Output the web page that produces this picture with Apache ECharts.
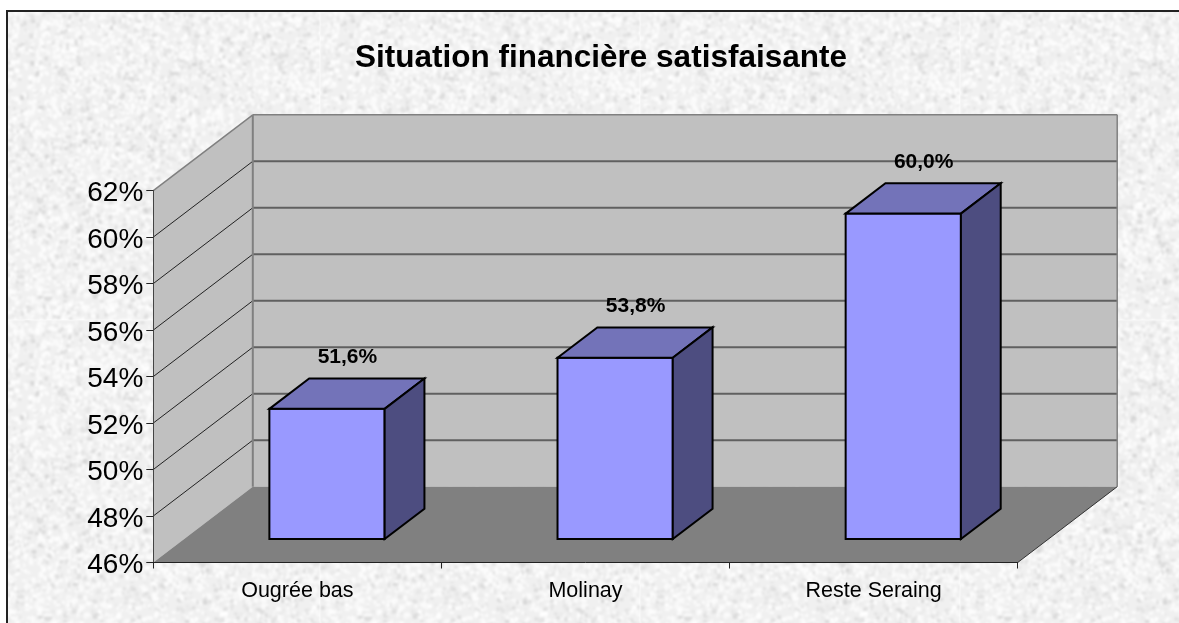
<!DOCTYPE html>
<html>
<head>
<meta charset="utf-8">
<title>Situation financière satisfaisante</title>
<script src="https://cdn.jsdelivr.net/npm/echarts@6/dist/echarts.min.js"></script>
<style>
  html, body { margin: 0; padding: 0; background: #fff; }
  #chart { width: 1179px; height: 623px; }
</style>
</head>
<body>
<div id="chart"></div>
<script>
const categories = ['Ougrée bas', 'Molinay', 'Reste Seraing']
const values = [51.6, 53.8, 60.0]
const yMin = 46
const yMax = 62
const yStep = 2

// depth of the fake 3d box, in px
const depthX = 99.5
const depthY = 75.8
// the bars stand from 31% to 71% of that depth
const barNear = 0.31
const barFar = 0.71
const font = '"Liberation Sans", Arial, sans-serif'

// paper texture, only a decoration (fixed seed so that every run is the same)
function makeTexture() {
  const size = 320
  const raw = document.createElement('canvas')
  raw.width = raw.height = size
  const c = raw.getContext('2d')
  c.fillStyle = '#f0f0f0'
  c.fillRect(0, 0, size, size)
  let seed = 12345
  const next = () => {
    seed = (seed * 1103515245 + 12345) % 2147483648
    return seed / 2147483648
  }
  for (let i = 0; i < 7000; i++) {
    const light = next() > 0.35
    const g = light ? 250 + Math.floor(next() * 6) : 205 + Math.floor(next() * 30)
    c.fillStyle = `rgba(${g},${g},${g},${light ? 0.8 : 0.55})`
    c.fillRect(next() * size, next() * size, 2 + next() * 3, 2 + next() * 3)
  }
  const tile = document.createElement('canvas')
  tile.width = tile.height = size
  const t = tile.getContext('2d')
  t.filter = 'blur(1.2px)'
  t.drawImage(raw, 0, 0)
  return tile
}

function poly(points, fill, stroke, lineWidth) {
  return {
    type: 'polygon',
    shape: { points },
    style: { fill, stroke: stroke || 'none', lineWidth: lineWidth || 0, lineJoin: 'miter' }
  }
}

function line(a, b, stroke, lineWidth) {
  return {
    type: 'line',
    shape: { x1: a[0], y1: a[1], x2: b[0], y2: b[1] },
    style: { stroke, lineWidth }
  }
}

// walls, floor and gridlines
function renderBox(params, api) {
  const fl = api.coord([0, yMin])
  const tl = api.coord([0, yMax])
  const band = api.size([1, 0])[0]
  const left = fl[0] - band / 2
  const right = left + band * categories.length
  const bottom = fl[1]
  const top = tl[1]
  const children = [
    // side wall
    poly([[left, bottom], [left + depthX, bottom - depthY], [left + depthX, top - depthY], [left, top]], '#c0c0c0'),
    // back wall
    poly([[left + depthX, bottom - depthY], [right + depthX, bottom - depthY], [right + depthX, top - depthY], [left + depthX, top - depthY]], '#c0c0c0'),
    // floor
    poly([[left, bottom], [right, bottom], [right + depthX, bottom - depthY], [left + depthX, bottom - depthY]], '#808080')
  ]
  for (let v = yMin + yStep; v < yMax; v += yStep) {
    const y = api.coord([0, v])[1]
    children.push(line([left, y], [left + depthX, y - depthY], '#222', 1))
    children.push(line([left + depthX, y - depthY], [right + depthX, y - depthY], '#606060', 2))
  }
  children.push(line([left, top], [left + depthX, top - depthY], '#808080', 1.5))
  children.push(line([left + depthX, top - depthY], [right + depthX, top - depthY], '#808080', 1.5))
  children.push(line([left + depthX, top - depthY], [left + depthX, bottom - depthY], '#808080', 2))
  children.push(line([right + depthX, top - depthY], [right + depthX, bottom - depthY], '#808080', 1.5))
  children.push(line([right, bottom], [right + depthX, bottom - depthY], '#333', 1))
  return { type: 'group', children }
}

// one 3d bar per value
function renderBar(params, api) {
  const idx = api.value(0)
  const base = api.coord([idx, yMin])
  const head = api.coord([idx, api.value(1)])
  const w = api.size([1, 0])[0] / 2.5
  const nx = depthX * barNear - 1.2
  const ny = depthY * barNear
  const dx = depthX * (barFar - barNear)
  const dy = depthY * (barFar - barNear)
  const x0 = base[0] - w / 2 + nx
  const x1 = x0 + w
  const y0 = head[1] - ny
  const y1 = base[1] - ny
  const children = [
    poly([[x0, y0], [x1, y0], [x1, y1], [x0, y1]], '#9999ff', '#000', 2),
    poly([[x0, y0], [x0 + dx, y0 - dy], [x1 + dx, y0 - dy], [x1, y0]], '#7373b9', '#000', 2),
    poly([[x1, y0], [x1 + dx, y0 - dy], [x1 + dx, y1 - dy], [x1, y1]], '#4d4d80', '#000', 2),
    {
      type: 'text',
      style: {
        x: (x0 + x1 + dx) / 2 + 0.5,
        y: y0 - dy - 21,
        text: api.value(1).toFixed(1).replace('.', ',') + '%',
        fill: '#000',
        font: 'bold 21px ' + font,
        align: 'center',
        verticalAlign: 'middle'
      }
    }
  ]
  return { type: 'group', children }
}

let myEcharts = echarts.init(document.getElementById('chart'), null, { renderer: 'canvas' })
myEcharts.setOption({
  animation: false,
  title: {
    text: 'Situation financière satisfaisante',
    left: 596,
    top: 53,
    textAlign: 'center',
    textVerticalAlign: 'middle',
    textStyle: { fontFamily: font, fontSize: 31.5, fontWeight: 'bold', color: '#000' }
  },
  graphic: [
    {
      type: 'rect',
      z: -10,
      shape: { x: 7, y: 11, width: 1180, height: 620 },
      style: { fill: { image: makeTexture(), repeat: 'repeat' }, stroke: '#222', lineWidth: 2 }
    }
  ],
  grid: { left: 153.3, top: 190.6, width: 864.4, height: 371.9, containLabel: false },
  xAxis: {
    type: 'category',
    data: categories,
    z: 3,
    axisLine: { lineStyle: { color: '#222', width: 1 } },
    axisTick: { show: true, length: 6, alignWithLabel: false, lineStyle: { color: '#222' } },
    axisLabel: { fontFamily: font, fontSize: 21.5, color: '#000', margin: 18, interval: 0 },
    splitLine: { show: false }
  },
  yAxis: {
    type: 'value',
    min: yMin,
    max: yMax,
    interval: yStep,
    z: 3,
    axisLine: { show: true, lineStyle: { color: '#444', width: 1 } },
    axisTick: { show: true, length: 7, lineStyle: { color: '#222' } },
    axisLabel: {
      margin: 10,
      formatter: '{t|{value}%}',
      rich: { t: { fontFamily: font, fontSize: 28, color: '#000', padding: [6, 0, 0, 0] } }
    },
    splitLine: { show: false }
  },
  series: [
    {
      type: 'custom',
      name: 'box',
      z: 1,
      silent: true,
      renderItem: renderBox,
      data: [[0, yMin]],
      clip: false
    },
    {
      type: 'custom',
      name: 'Situation financière satisfaisante',
      z: 4,
      renderItem: renderBar,
      encode: { x: 0, y: 1 },
      data: values.map((v, i) => [i, v]),
      clip: false
    }
  ]
})
</script>
</body>
</html>
